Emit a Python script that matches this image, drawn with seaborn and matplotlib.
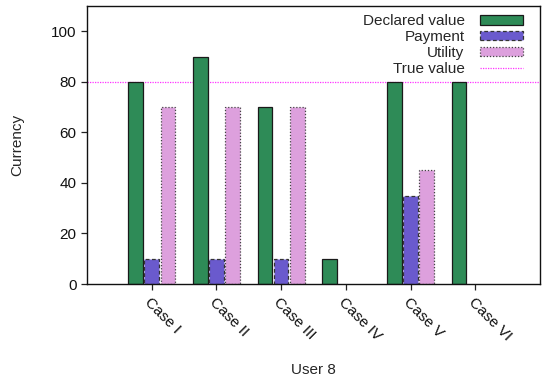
import matplotlib
matplotlib.use("Agg")
import matplotlib.pyplot as plt
import matplotlib.transforms as mtransforms
import seaborn as sns
import pandas as pd
from matplotlib.lines import Line2D

cases = ["Case I", "Case II", "Case III", "Case IV", "Case V", "Case VI"]
declared = [80, 90, 70, 10, 80, 80]
payment = [10, 10, 10, 0, 35, 0]
utility = [70, 70, 70, 0, 45, 0]
true_value = 80

series = ["Declared value", "Payment", "Utility"]
colors = ["#2e8b57", "#6a5acd", "#dda0dd"]
edge_styles = ["solid", (0, (3, 2)), (0, (1, 1.5))]
edge_colors = ["#1a1a1a", "#333333", "#444444"]

df = pd.DataFrame({
    "case": cases * 3,
    "value": declared + payment + utility,
    "series": [s for s in series for _ in cases],
})

sns.set_style("white")
plt.rcParams["font.family"] = ["Liberation Sans", "DejaVu Sans"]
plt.rcParams["font.size"] = 11

fig = plt.figure(figsize=(5.42, 3.79), dpi=100)
ax = fig.add_axes([87 / 542, 1 - 284 / 379, (540 - 87) / 542, (284 - 6) / 379])

sns.barplot(data=df, x="case", y="value", hue="series", hue_order=series,
            palette=colors, order=cases, width=0.75, gap=0.1,
            saturation=1, legend=False, ax=ax)

for cont, ls, ec in zip(ax.containers, edge_styles, edge_colors):
    for bar in cont:
        bar.set_edgecolor(ec)
        bar.set_linewidth(0.9)
        bar.set_linestyle(ls)
        if bar.get_height() == 0:
            bar.set_visible(False)

ax.axhline(true_value, color="#ff33ff", lw=0.9, ls=(0, (1, 1)), zorder=0.5)

ax.set_xlim(-1, 6)
ax.set_ylim(0, 110)
ax.set_yticks(range(0, 101, 20))
ax.set_xticks(range(len(cases)))
ax.set_xticklabels(cases, rotation=-45, ha="left", va="top",
                   rotation_mode="anchor")
shift = mtransforms.ScaledTranslation(5 / 100, 0, fig.dpi_scale_trans)
for lbl in ax.get_xticklabels():
    lbl.set_transform(lbl.get_transform() + shift)
ax.tick_params(axis="both", direction="out", length=4, width=0.9,
               colors="#222222", labelcolor="#111111", labelsize=11,
               bottom=True, left=True, top=False, right=False)
ax.tick_params(axis="x", pad=4)
for sp in ax.spines.values():
    sp.set_visible(True)
    sp.set_color("#111111")
    sp.set_linewidth(1.0)

ax.set_xlabel("User 8", fontsize=11)
ax.xaxis.set_label_coords(0.5, -0.283)
ax.set_ylabel("Currency", fontsize=11)
ax.yaxis.set_label_coords(-0.139, 0.5)

handles = []
for ls, ec, c in zip(edge_styles, edge_colors, colors):
    handles.append(plt.Rectangle((0, 0), 1, 1, facecolor=c, edgecolor=ec,
                                 linewidth=0.9, linestyle=ls))
handles.append(Line2D([0], [0], color="#ff33ff", lw=0.9, ls=(0, (1, 1))))
labels = series + ["True value"]
ax.legend(handles, labels, loc="upper right", bbox_to_anchor=(0.975, 0.992),
          frameon=False, markerfirst=False, handlelength=2.8,
          handleheight=0.55, labelspacing=0.12, handletextpad=1.0,
          fontsize=11, borderaxespad=0)

fig.savefig("out.png", dpi=100)
